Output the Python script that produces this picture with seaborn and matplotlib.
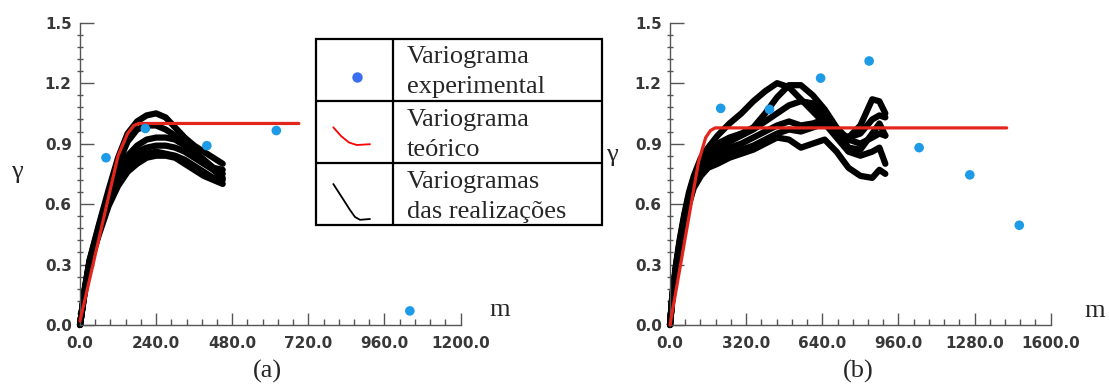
import numpy as np
import pandas as pd
import matplotlib
matplotlib.use("Agg")
import matplotlib.pyplot as plt
import seaborn as sns
from matplotlib.ticker import MultipleLocator, FormatStrFormatter
from matplotlib.patches import Rectangle

# ---------------- data: panel (a) ----------------
a_lags = [0, 15, 30, 60, 90, 120, 150, 180, 210, 240, 270, 300, 330, 360, 390, 420, 450]
a_real1 = [0.00, 0.18, 0.32, 0.50, 0.67, 0.83, 0.95, 1.01, 1.04, 1.05, 1.03, 0.98, 0.93, 0.89, 0.86, 0.83, 0.80]
a_real2 = [0.00, 0.18, 0.32, 0.49, 0.65, 0.80, 0.91, 0.97, 0.99, 0.99, 0.97, 0.94, 0.90, 0.86, 0.82, 0.78, 0.75]
a_real3 = [0.00, 0.17, 0.31, 0.48, 0.63, 0.75, 0.84, 0.89, 0.92, 0.93, 0.93, 0.92, 0.89, 0.86, 0.82, 0.78, 0.77]
a_real4 = [0.00, 0.17, 0.31, 0.47, 0.62, 0.73, 0.81, 0.86, 0.88, 0.89, 0.89, 0.88, 0.86, 0.83, 0.80, 0.77, 0.73]
a_real5 = [0.00, 0.17, 0.30, 0.46, 0.60, 0.71, 0.78, 0.83, 0.85, 0.86, 0.85, 0.84, 0.82, 0.79, 0.76, 0.73, 0.72]
a_real6 = [0.00, 0.16, 0.30, 0.45, 0.59, 0.69, 0.76, 0.80, 0.83, 0.84, 0.84, 0.83, 0.80, 0.77, 0.74, 0.72, 0.70]
a_model_lag = [0, 120, 150, 170, 185, 690]
a_model_val = [0.02, 0.84, 0.95, 0.99, 1.00, 1.00]
a_exp_lag = [82, 206, 400, 619, 1040]
a_exp_val = [0.83, 0.975, 0.89, 0.965, 0.07]

# ---------------- data: panel (b) ----------------
b_lags = [0, 10, 25, 40, 60, 80, 100, 130, 160, 200, 250, 300, 350, 400, 450,
          500, 550, 600, 650, 700, 750, 800, 850, 880, 905]
b_real1 = [0, 0.15, 0.30, 0.42, 0.55, 0.66, 0.74, 0.83, 0.88, 0.94, 1.00, 1.05, 1.11, 1.16, 1.20,
           1.18, 1.12, 1.06, 1.00, 0.96, 0.93, 0.95, 1.02, 1.04, 1.03]
b_real2 = [0, 0.15, 0.29, 0.41, 0.54, 0.65, 0.73, 0.81, 0.86, 0.90, 0.93, 0.95, 0.98, 1.05, 1.13,
           1.19, 1.19, 1.14, 1.07, 0.98, 0.92, 0.90, 0.93, 0.95, 0.94]
b_real3 = [0, 0.14, 0.29, 0.40, 0.53, 0.64, 0.72, 0.80, 0.84, 0.88, 0.91, 0.94, 0.97, 1.01, 1.05,
           1.09, 1.11, 1.10, 1.04, 0.96, 0.93, 0.99, 1.12, 1.11, 1.05]
b_real4 = [0, 0.14, 0.28, 0.40, 0.52, 0.63, 0.71, 0.78, 0.82, 0.85, 0.88, 0.90, 0.93, 0.96, 0.99,
           1.01, 0.99, 1.00, 1.02, 0.97, 0.88, 0.87, 0.95, 1.00, 0.94]
b_real5 = [0, 0.14, 0.28, 0.39, 0.51, 0.61, 0.69, 0.76, 0.80, 0.83, 0.85, 0.87, 0.89, 0.92, 0.95,
           0.97, 0.96, 0.98, 1.00, 0.93, 0.86, 0.84, 0.86, 0.88, 0.80]
b_real6 = [0, 0.13, 0.27, 0.38, 0.50, 0.60, 0.68, 0.74, 0.78, 0.80, 0.83, 0.85, 0.87, 0.90, 0.93,
           0.92, 0.88, 0.90, 0.92, 0.86, 0.78, 0.74, 0.73, 0.77, 0.75]
b_model_lag = [0, 120, 150, 170, 190, 1415]
b_model_val = [0.00, 0.81, 0.93, 0.965, 0.978, 0.978]
b_exp_lag = [213, 418, 633, 837, 1047, 1260, 1468]
b_exp_val = [1.075, 1.07, 1.225, 1.31, 0.88, 0.745, 0.495]

legend_labels = [["Variograma", "experimental"],
                 ["Variograma", "teórico"],
                 ["Variogramas", "das realizações"]]

# ---------------- style ----------------
sns.set_style("white")
plt.rcParams["font.family"] = ["DejaVu Sans"]
plt.rcParams["font.weight"] = "bold"
SERIF = ["Liberation Serif", "DejaVu Serif"]
RED = "#e3261c"
BLUE = "#1e9be6"
AXC = "#555555"

W, H = 1109, 385
fig = plt.figure(figsize=(W / 100, H / 100), dpi=100)


def realizations_frame(lags, curves):
    rows = []
    for i, vals in enumerate(curves):
        for m, g in zip(lags, vals):
            rows.append({"m": m, "gamma": g, "real": i})
    return pd.DataFrame(rows)


def style_axes(ax, xmax, xmaj):
    ax.set_xlim(0, xmax)
    ax.set_ylim(0, 1.5)
    for s in ["top", "right"]:
        ax.spines[s].set_visible(False)
    for s in ["left", "bottom"]:
        ax.spines[s].set_color(AXC)
        ax.spines[s].set_linewidth(1.0)
    ax.xaxis.set_major_locator(MultipleLocator(xmaj))
    ax.xaxis.set_minor_locator(MultipleLocator(xmaj / 5))
    ax.yaxis.set_major_locator(MultipleLocator(0.3))
    ax.yaxis.set_minor_locator(MultipleLocator(0.06))
    ax.xaxis.set_major_formatter(FormatStrFormatter("%.1f"))
    ax.yaxis.set_major_formatter(FormatStrFormatter("%.1f"))
    ax.tick_params(axis="x", which="major", direction="in", length=9, width=1,
                   color=AXC, pad=8, labelsize=11, labelcolor="#383838")
    ax.tick_params(axis="x", which="minor", direction="in", length=4, width=1, color=AXC)
    ax.tick_params(axis="y", which="major", direction="in", length=10, width=1,
                   color=AXC, pad=6, labelsize=11, labelcolor="#383838")
    ax.tick_params(axis="y", which="minor", direction="inout", length=5, width=1, color=AXC)
    ax.tick_params(left=True, bottom=True, which="both")
    ax.set_xlabel("")
    ax.set_ylabel("")
    ax.set_facecolor("none")


def draw_panel(ax, lags, curves, mlag, mval, elag, evals, xmax, xmaj):
    df = realizations_frame(lags, curves)
    sns.lineplot(data=df, x="m", y="gamma", units="real", estimator=None,
                 color="black", linewidth=4.5, ax=ax, legend=False, zorder=2,
                 solid_capstyle="round", solid_joinstyle="round")
    sns.lineplot(x=mlag, y=mval, color=RED, linewidth=2.3, ax=ax, zorder=3,
                 estimator=None, sort=False)
    sns.scatterplot(x=elag, y=evals, color=BLUE, s=48, edgecolor="none", ax=ax, zorder=4)
    for ln in ax.lines:
        ln.set_clip_on(False)
    style_axes(ax, xmax, xmaj)


axA = fig.add_axes([80 / W, 60 / H, 380.6 / W, 302.3 / H])
draw_panel(axA, a_lags, [a_real1, a_real2, a_real3, a_real4, a_real5, a_real6],
           a_model_lag, a_model_val, a_exp_lag, a_exp_val, 1200, 240)

axB = fig.add_axes([670 / W, 60 / H, 380.7 / W, 302.3 / H])
draw_panel(axB, b_lags, [b_real1, b_real2, b_real3, b_real4, b_real5, b_real6],
           b_model_lag, b_model_val, b_exp_lag, b_exp_val, 1600, 320)

# ---------------- overlay (labels + legend table) in pixel coords ----------------
ov = fig.add_axes([0, 0, 1, 1], zorder=10)
ov.set_xlim(0, W)
ov.set_ylim(H, 0)
ov.axis("off")
ov.patch.set_alpha(0)

fs = 19
kw = dict(family=SERIF, fontsize=fs, fontweight="normal")
ov.text(17, 172, "γ", ha="center", va="center", **kw)
ov.text(612, 155, "γ", ha="center", va="center", **kw)
ov.text(500, 316, "m", ha="center", va="baseline", **kw)
ov.text(1095, 317, "m", ha="center", va="baseline", **kw)
ov.text(267, 378, "(a)", ha="center", va="baseline", **kw)
ov.text(858, 378, "(b)", ha="center", va="baseline", **kw)

# legend table
x0, x1, xd = 316, 601.5, 392.7
y0, y1, y2, y3 = 39.3, 100.7, 163.3, 225
ov.add_patch(Rectangle((x0, y0), x1 - x0, y3 - y0, fill=True, facecolor="white",
                       edgecolor="black", linewidth=1.6))
ov.plot([x0, x1], [y1, y1], color="black", lw=1.6)
ov.plot([x0, x1], [y2, y2], color="black", lw=1.6)
ov.plot([xd, xd], [y0, y3], color="black", lw=1.6)

ov.plot([356.7], [76.7], "o", color="#3b6ef0", markersize=7.5, markeredgewidth=0)
ov.plot([333.3, 341, 349, 356.7, 370], [127.3, 136, 142.5, 145, 144.2], color="red", lw=1.3)
ov.plot([333.3, 343, 350, 355, 360, 370], [184, 199, 210, 217, 219.8, 219.0], color="black", lw=1.3)

baselines = [(63.5, 93.5), (125.7, 156.0), (188.3, 218.3)]
for (b1, b2), (t1, t2) in zip(baselines, legend_labels):
    ov.text(407, b1, t1, ha="left", va="baseline", **kw)
    ov.text(407, b2, t2, ha="left", va="baseline", **kw)

fig.savefig("out.png", dpi=100)
